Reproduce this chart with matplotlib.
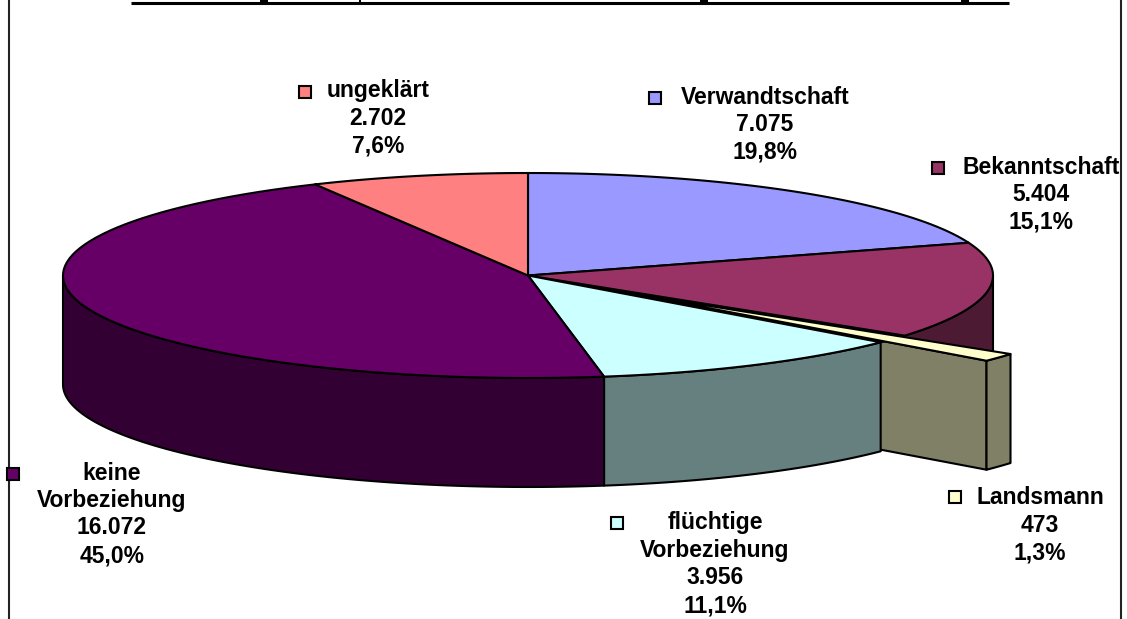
import numpy as np
import matplotlib
matplotlib.use('Agg')
import matplotlib.pyplot as plt
from matplotlib.patches import Polygon, Rectangle

# values clockwise from 12 o'clock
names = [['Verwandtschaft'], ['Bekanntschaft'], ['Landsmann'],
         ['flüchtige', 'Vorbeziehung'], ['keine', 'Vorbeziehung'], ['ungeklärt']]
values = [7075, 5404, 473, 3956, 16072, 2702]
value_labels = ['7.075', '5.404', '473', '3.956', '16.072', '2.702']
pct_labels = ['19,8%', '15,1%', '1,3%', '11,1%', '45,0%', '7,6%']
explode = [0, 0, 0.29, 0, 0, 0]

colors = ['#9999FF', '#993366', '#FFFFCC', '#CCFFFF', '#660066', '#FF8080']
side_colors = ['#4D4D80', '#4D1A33', '#808066', '#668080', '#330033', '#804040']

# the title is cut off at the top edge, only specks of its descenders are left
speck_x = [264, 360, 704, 965]
speck_w = [8, 2, 8, 8]

# pie geometry in pixels
cx, cy = 528, 275.5
rx, ry = 465, 102.5
depth = 109

# label layout: centre x, first line y, key x, key y
label_pos = [(765, 97, 655, 98), (1041, 167, 938, 168), (1040, 498, 955, 497),
             (715, 523, 617, 523), (112, 473, 13, 474), (378, 91, 305, 92)]

plt.rcParams['font.family'] = ['Liberation Sans', 'DejaVu Sans']

fig = plt.figure(figsize=(11.27, 6.19), dpi=100)
ax = fig.add_axes([0, 0, 1, 1])
ax.set_xlim(0, 1127)
ax.set_ylim(619, 0)
ax.axis('off')

edges = np.cumsum([0] + values) / sum(values) * 360


def point(deg, off=(0, 0), down=0):
    a = np.radians(deg)
    return np.array([cx + off[0] + rx * np.sin(a), cy + off[1] + down - ry * np.cos(a)])


def arc(a0, a1, off=(0, 0), down=0):
    return np.array([point(d, off, down) for d in np.linspace(a0, a1, 80)])


def offset(i):
    mid = np.radians((edges[i] + edges[i + 1]) / 2)
    return (explode[i] * rx * np.sin(mid), -explode[i] * ry * np.cos(mid))


def add(xy, color, z):
    ax.add_patch(Polygon(xy, closed=True, facecolor=color, edgecolor='black',
                         linewidth=1.5, joinstyle='round', zorder=z))


def side(i, z):
    a0, a1 = max(edges[i], 90), min(edges[i + 1], 270)
    if a1 > a0:
        top = arc(a0, a1, offset(i))
        bottom = arc(a1, a0, offset(i), depth)
        add(np.vstack([top, bottom]), side_colors[i], z)


# back to front: side walls first, the exploded wedge sits between them
side(1, 1)
off = offset(2)
apex = np.array([cx + off[0], cy + off[1]])
corner = point(edges[3], off)
add([apex, corner, corner + [0, depth], apex + [0, depth]], side_colors[2], 2)
side(2, 3)
side(3, 4)
side(4, 4)

# the gap the exploded wedge leaves behind
add(np.vstack([[[cx, cy]], arc(edges[2], edges[3])]), 'black', 5)
for i in [0, 1, 3, 4, 5]:
    add(np.vstack([[[cx, cy]], arc(edges[i], edges[i + 1])]), colors[i], 6)
add(np.vstack([[apex], arc(edges[2], edges[3], off)]), colors[2], 7)

for i, (tx, ty, kx, ky) in enumerate(label_pos):
    lines = names[i] + [value_labels[i], pct_labels[i]]
    for j, line in enumerate(lines):
        ax.text(tx, ty + j * 27.5, line, ha='center', va='center', fontsize=16.5,
                fontweight='bold', color='black', zorder=10)
    ax.add_patch(Rectangle((kx - 6, ky - 6), 12, 12, facecolor=colors[i],
                           edgecolor='black', linewidth=1.5, zorder=10))

for x, w in zip(speck_x, speck_w):
    ax.add_patch(Rectangle((x - w / 2, 0), w, 2, facecolor='black', edgecolor='none', zorder=9))

# frame lines and the underline of the cut-off title
ax.plot([8.5, 8.5], [0, 619], color='#222222', lw=1.5, zorder=9)
ax.plot([1120.5, 1120.5], [0, 619], color='#222222', lw=1.5, zorder=9)
ax.plot([131, 1009], [2.7, 2.7], color='black', lw=2.2, zorder=9, solid_capstyle='butt')

fig.savefig('out.png', dpi=100, facecolor='white')
